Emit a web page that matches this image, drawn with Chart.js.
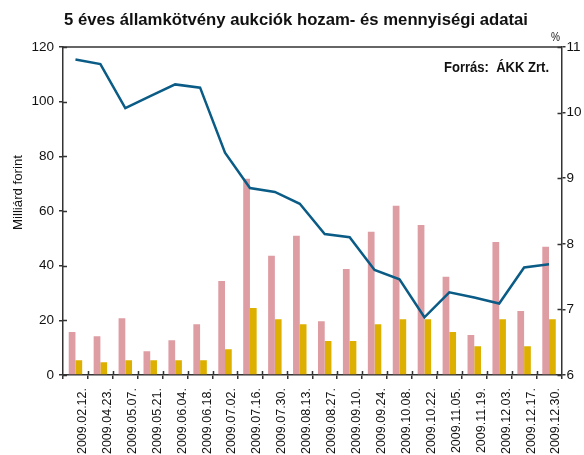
<!DOCTYPE html>
<html>
<head>
<meta charset="utf-8">
<script src="https://cdn.jsdelivr.net/npm/chart.js@4.4.1/dist/chart.umd.min.js"></script>
<style>
  html, body { margin: 0; padding: 0; background: #fff; }
  #wrap { width: 584px; height: 455px; }
</style>
</head>
<body>
<div id="wrap"><canvas id="myChart" width="584" height="455"></canvas></div>
<script>
const labels = ['2009.02.12.', '2009.04.23.', '2009.05.07.', '2009.05.21.', '2009.06.04.',
  '2009.06.18.', '2009.07.02.', '2009.07.16.', '2009.07.30.', '2009.08.13.',
  '2009.08.27.', '2009.09.10.', '2009.09.24.', '2009.10.08.', '2009.10.22.',
  '2009.11.05.', '2009.11.19.', '2009.12.03.', '2009.12.17.', '2009.12.30.'];
// Milliárd forint
const benyujtott = [15.7, 14.2, 20.8, 8.7, 12.7, 18.6, 34.4, 71.8, 43.6, 50.9,
  19.7, 38.8, 52.4, 61.9, 54.9, 35.9, 14.6, 48.7, 23.4, 46.9];
const elfogadott = [5.4, 4.7, 5.4, 5.4, 5.4, 5.4, 9.4, 24.5, 20.4, 18.6,
  12.4, 12.4, 18.6, 20.4, 20.4, 15.7, 10.5, 20.4, 10.5, 20.4];
// %
const hozam = [10.81, 10.74, 10.07, 10.25, 10.43, 10.38, 9.39, 8.85, 8.79, 8.61,
  8.15, 8.10, 7.60, 7.46, 6.88, 7.26, 7.18, 7.09, 7.64, 7.69];
const leftTicks = [0, 20, 40, 60, 80, 100, 120];
const rightTicks = [6, 7, 8, 9, 10, 11];

const axisColor = '#333';
const tickFont = { family: "'Liberation Sans', Arial, sans-serif", size: 13.5 };

// draw text squeezed to a given width (condensed look)
function fitText(ctx, text, x, y, width, font, align) {
  ctx.save();
  ctx.font = font;
  let w = ctx.measureText(text).width;
  let s = width / w;
  let x0 = align === 'right' ? x - width : (align === 'center' ? x - width / 2 : x);
  ctx.translate(x0, y);
  ctx.scale(s, 1);
  ctx.textAlign = 'left';
  ctx.fillText(text, 0, 0);
  ctx.restore();
}

const extras = {
  id: 'extras',
  afterDraw(chart) {
    const ctx = chart.ctx;
    const area = chart.chartArea;
    const x = chart.scales.x, y = chart.scales.y, y1 = chart.scales.y1;
    ctx.save();
    ctx.strokeStyle = axisColor;
    ctx.lineWidth = 1.5;
    // top frame line
    ctx.beginPath();
    ctx.moveTo(area.left, area.top);
    ctx.lineTo(area.right, area.top);
    ctx.stroke();
    // inward parts of tick marks
    ctx.beginPath();
    y.ticks.forEach((t, i) => {
      let py = Math.round(y.getPixelForTick(i)) + 0.5;
      ctx.moveTo(area.left, py); ctx.lineTo(area.left + 4, py);
    });
    y1.ticks.forEach((t, i) => {
      let py = Math.round(y1.getPixelForTick(i)) + 0.5;
      ctx.moveTo(area.right, py); ctx.lineTo(area.right - 4, py);
    });
    for (let i = 1; i < labels.length; i++) {
      let px = Math.round((x.getPixelForValue(i - 1) + x.getPixelForValue(i)) / 2) + 0.5;
      ctx.moveTo(px, area.bottom); ctx.lineTo(px, area.bottom - 4);
    }
    ctx.stroke();

    ctx.fillStyle = '#111';
    ctx.textBaseline = 'alphabetic';
    fitText(ctx, '5 éves államkötvény aukciók hozam- és mennyiségi adatai', 296, 25, 464,
      "bold 17px 'Liberation Sans', Arial, sans-serif", 'center');
    fitText(ctx, 'Forrás:  ÁKK Zrt.', 549, 72, 105,
      "bold 15px 'Liberation Sans', Arial, sans-serif", 'right');
    fitText(ctx, '%', 555.5, 41, 9, "13px 'Liberation Sans', Arial, sans-serif", 'center');

    ctx.save();
    ctx.translate(21.5, 192.5);
    ctx.rotate(-Math.PI / 2);
    fitText(ctx, 'Milliárd forint', 0, 0, 75, "13px 'Liberation Sans', Arial, sans-serif", 'center');
    ctx.restore();
    ctx.restore();
  }
};

document.addEventListener('DOMContentLoaded', function () {
  let ctx = document.getElementById('myChart').getContext('2d');
  new Chart(ctx, {
    type: 'bar',
    data: {
      labels: labels,
      datasets: [{
        type: 'line',
        label: 'Hozam',
        data: hozam,
        yAxisID: 'y1',
        borderColor: '#0a5c86',
        borderWidth: 2.5,
        pointRadius: 0,
        tension: 0,
        fill: false,
        order: 0
      }, {
        label: 'Benyújtott',
        data: benyujtott,
        backgroundColor: '#de9ca3',
        yAxisID: 'y',
        order: 1,
        barPercentage: 1,
        categoryPercentage: 0.54
      }, {
        label: 'Elfogadott',
        data: elfogadott,
        backgroundColor: '#ddb000',
        yAxisID: 'y',
        order: 1,
        barPercentage: 1,
        categoryPercentage: 0.54
      }]
    },
    options: {
      responsive: false,
      animation: false,
      layout: { padding: { top: 47, left: 0, right: 0, bottom: 0 } },
      plugins: { legend: { display: false }, tooltip: { enabled: false } },
      scales: {
        x: {
          offset: true,
          grid: { offset: true, drawOnChartArea: false, tickLength: 4, color: axisColor, lineWidth: 1.5 },
          border: { color: axisColor, width: 1.5 },
          ticks: {
            autoSkip: false, minRotation: 90, maxRotation: 90, labelOffset: 7,
            color: '#111', font: { family: tickFont.family, size: 12.5 }, padding: 9
          },
          afterFit(scale) { scale.height = 80; }
        },
        y: {
          position: 'left',
          min: 0, max: 120,
          afterBuildTicks(scale) { scale.ticks = leftTicks.map(v => ({ value: v })); },
          grid: { drawOnChartArea: false, tickLength: 4, color: axisColor, lineWidth: 1.5 },
          border: { color: axisColor, width: 1.5 },
          ticks: { color: '#111', font: tickFont, padding: 5 },
          afterFit(scale) { scale.width = 63; }
        },
        y1: {
          position: 'right',
          min: 6, max: 11,
          afterBuildTicks(scale) { scale.ticks = rightTicks.map(v => ({ value: v })); },
          grid: { drawOnChartArea: false, tickLength: 4, color: axisColor, lineWidth: 1.5 },
          border: { color: axisColor, width: 1.5 },
          ticks: { color: '#111', font: tickFont, padding: 1 },
          afterFit(scale) { scale.width = 22.5; }
        }
      }
    },
    plugins: [extras]
  });
});
</script>
</body>
</html>
